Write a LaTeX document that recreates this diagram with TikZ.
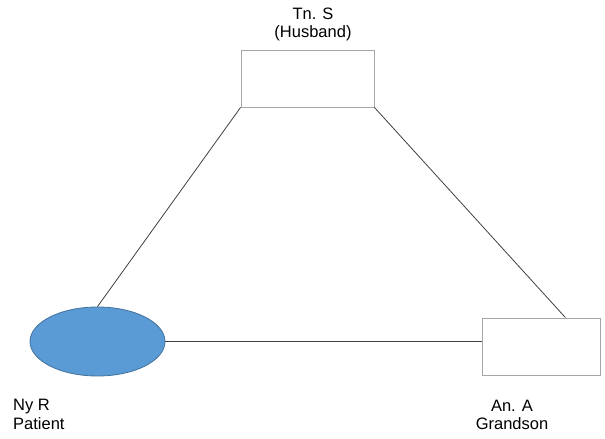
\documentclass[tikz,border=0pt]{standalone}
\usepackage{fontspec}
\setmainfont{Liberation Sans}
\usetikzlibrary{shapes.geometric,calc}
\definecolor{boxgray}{HTML}{A6A6A6}
\definecolor{linegray}{HTML}{404040}
\definecolor{patblue}{HTML}{5B9BD5}
\definecolor{patedge}{HTML}{41719C}
\tikzset{
  personbox/.style={draw=boxgray, line width=0.9pt, fill=white, minimum width=#1, minimum height=57pt, inner sep=0pt},
  patient/.style={ellipse, draw=patedge, line width=0.8pt, fill=patblue, minimum width=135pt, minimum height=69pt, inner sep=0pt},
  tie/.style={draw=linegray, line width=0.8pt},
  lbl/.style={font=\fontsize{16.5}{18.5}\selectfont, text=black, inner sep=0pt, align=center}
}
\begin{document}
\begin{tikzpicture}[x=1pt,y=-1pt]
\useasboundingbox (0,0) rectangle (605,439);
\node[personbox=133pt] (hus) at (307.5,78.5) {};
\node[patient] (pat) at (97.5,341.5) {};
\node[personbox=118pt] (gs) at (541,346.5) {};
\node[lbl] (husl) at (313,24.5) {Tn. S\\(Husband)};
\node[lbl, align=left, anchor=west] (patl) at (13,414.5) {Ny R\\Patient};
\node[lbl] (gsl) at (512,415) {An. A\\Grandson};
\draw[tie] (hus.south west) -- (pat.north);
\draw[tie] (hus.south east) -- ($(gs.north west)!0.705!(gs.north east)$);
\draw[tie] (pat.east) -- (pat.east -| gs.west);
\end{tikzpicture}
\end{document}
